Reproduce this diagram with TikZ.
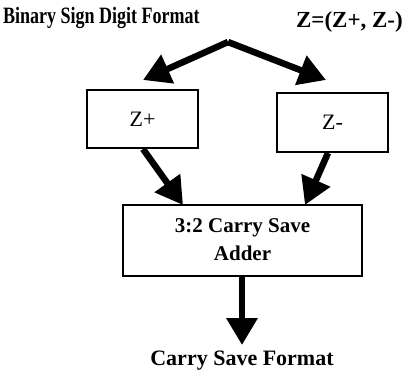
\documentclass[tikz,border=0pt]{standalone}
\usepackage{fontspec}
\setmainfont{Liberation Serif}
\usetikzlibrary{arrows.meta}
\begin{document}
\begin{tikzpicture}[x=1pt,y=-1pt,
  box/.style={draw=black,line width=2pt,minimum height=#1,inner sep=0pt,font=\fontsize{22}{24}\selectfont},
  bigarrow/.style={line width=6.5pt,-{Triangle[length=27pt,width=30pt]}},
  lbl/.style={font=\fontsize{#1}{#1}\selectfont\bfseries,inner sep=0pt}]
\useasboundingbox (0,0) rectangle (405,376);
\node[lbl=18,anchor=west] (title) at (3,18) {\scalebox{1}[1.3]{Binary Sign Digit Format}};
\node[lbl=23,anchor=east] (zdef) at (403,22) {Z=(Z+, Z-)};
\node[box=58pt,minimum width=111pt] (zp) at (142.5,119) {Z+};
\node[box=59pt,minimum width=111pt] (zm) at (332.5,122.5) {Z-};
\node[box=71pt,minimum width=239pt,align=center,font=\fontsize{21}{28}\selectfont\bfseries] (csa) at (242.5,240) {3:2 Carry Save\\Adder};
\node[lbl=22] (out) at (242,361) {Carry Save Format};
\coordinate (apex) at (228,42);
\coordinate (tl) at (143,80);
\coordinate (tr) at (326,80);
\draw[bigarrow] (apex) -- (tl);
\draw[bigarrow] (apex) -- (tr);
\draw[bigarrow] (143,149) -- (183,205);
\draw[bigarrow] (328,153) -- (305,205);
\draw[bigarrow] (csa.south -| 242,0) -- (242,345);
\end{tikzpicture}
\end{document}
